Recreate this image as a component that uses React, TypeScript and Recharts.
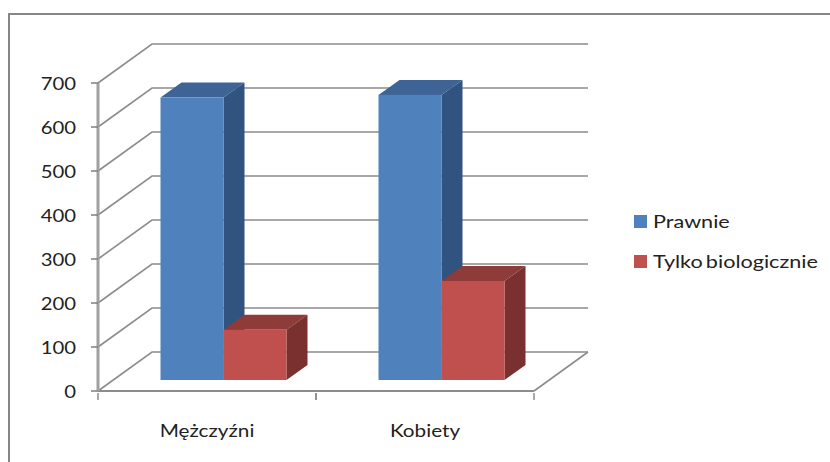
import { Bar, BarChart, CartesianGrid, Legend, XAxis, YAxis } from 'recharts';

const categories = ['Mężczyźni', 'Kobiety'];
const prawnie = [642, 648];
const tylkoBiologicznie = [114, 225];
const yTicks = [0, 100, 200, 300, 400, 500, 600, 700];

const chartData = categories.map((name, i) => ({
  name,
  prawnie: prawnie[i],
  tylko: tylkoBiologicznie[i],
}));

const FONT = 'Lato, sans-serif';
const GRID = '#8c8c8c';
// depth of the walls and of the bars, in pixels
const WALL_DX = 54;
const WALL_DY = -39;
const BAR_SHIFT_X = 16;
const BAR_SHIFT_Y = -11;
const BAR_DX = 21;
const BAR_DY = -15;

const gridLine = (props: any) => {
  const { x1, y1, x2, index } = props;
  const isFloor = y1 >= props.y + props.height - 1;
  const bx = x1 + WALL_DX;
  const by = y1 + WALL_DY;
  return (
    <g key={`grid-${index}`} fill="none" stroke={GRID} strokeWidth={1.6}>
      <polyline points={`${x1},${y1} ${bx},${by} ${x2 + WALL_DX},${by}`} />
      {isFloor && <line x1={x2} y1={y1} x2={x2 + WALL_DX} y2={by} />}
    </g>
  );
};

const box3d = (front: string, top: string, side: string) => (props: any) => {
  const { x, y, width, height } = props;
  const l = x + BAR_SHIFT_X;
  const r = l + width;
  const t = y + BAR_SHIFT_Y;
  const b = t + height;
  return (
    <g>
      <polygon points={`${l},${t} ${l + BAR_DX},${t + BAR_DY} ${r + BAR_DX},${t + BAR_DY} ${r},${t}`} fill={top} />
      <polygon points={`${r},${t} ${r + BAR_DX},${t + BAR_DY} ${r + BAR_DX},${b + BAR_DY} ${r},${b}`} fill={side} />
      <rect x={l} y={t} width={width} height={height} fill={front} />
    </g>
  );
};

const CategoryTick = (props: any) => {
  const { x, y, payload, width, visibleTicksCount } = props;
  const half = width / visibleTicksCount / 2;
  return (
    <g>
      <line x1={x - half} y1={y} x2={x - half} y2={y + 7} stroke="#8c8c8c" strokeWidth={1.5} />
      <line x1={x + half} y1={y} x2={x + half} y2={y + 7} stroke="#8c8c8c" strokeWidth={1.5} />
      <text
        transform={`translate(${x},${y + 44}) scale(1.15,1)`}
        textAnchor="middle"
        fontFamily={FONT}
        fontSize={18}
        fill="#222"
      >
        {payload.value}
      </text>
    </g>
  );
};

const ValueTick = (props: any) => {
  const { x, y, payload } = props;
  return (
    <text
      transform={`translate(${x},${y + 7}) scale(1.13,1)`}
      textAnchor="end"
      fontFamily={FONT}
      fontSize={18}
      fill="#222"
    >
      {payload.value}
    </text>
  );
};

const LegendList = ({ payload }: any) => (
  <div style={{ fontFamily: FONT, fontSize: 18, color: '#222' }}>
    {(payload || []).map((p: any) => (
      <div key={p.value} style={{ display: 'flex', alignItems: 'center', height: 40 }}>
        <span style={{ width: 13, height: 13, background: p.color, marginRight: 6 }} />
        <span style={{ whiteSpace: 'nowrap', wordSpacing: -2, transform: 'scaleX(1.2)', transformOrigin: 'left center' }}>{p.value}</span>
      </div>
    ))}
  </div>
);

export default function App() {
  return (
    <div style={{ position: 'absolute', left: 0, top: 0, width: 830, height: 462, overflow: 'hidden', background: '#fff' }}>
      <div style={{ position: 'absolute', left: 8, top: 13, width: 830, height: 462, borderLeft: '2px solid #868686', borderTop: '2px solid #868686' }} />
      <BarChart
        width={830}
        height={462}
        data={chartData}
        margin={{ top: 83, right: 296, bottom: 41, left: 38 }}
        barGap={0}
        barCategoryGap={46.5}
        style={{ position: 'absolute', left: 0, top: 0 }}
      >
        <CartesianGrid vertical={false} horizontal={gridLine} />
        <XAxis
          dataKey="name"
          height={30}
          interval={0}
          tick={CategoryTick}
          tickLine={false}
          tickSize={0}
          axisLine={{ stroke: '#8c8c8c', strokeWidth: 2 }}
        />
        <YAxis
          width={60}
          domain={[0, 700]}
          ticks={yTicks}
          interval={0}
          tickSize={7}
          tickMargin={15}
          tick={ValueTick}
          tickLine={{ stroke: '#7f7f7f', strokeWidth: 1.5 }}
          axisLine={{ stroke: '#a0a0a0', strokeWidth: 3 }}
        />
        <Bar dataKey="prawnie" name="Prawnie" fill="#4F81BD" isAnimationActive={false} shape={box3d('#4F81BD', '#3E6496', '#31537F')} />
        <Bar dataKey="tylko" name="Tylko biologicznie" fill="#C0504D" isAnimationActive={false} shape={box3d('#C0504D', '#8E3B39', '#7A302E')} />
        <Legend
          layout="horizontal"
          align="center"
          verticalAlign="middle"
          content={LegendList}
          wrapperStyle={{ left: 634, top: 201, width: 195, bottom: 'auto', right: 'auto' }}
        />
      </BarChart>
    </div>
  );
}
